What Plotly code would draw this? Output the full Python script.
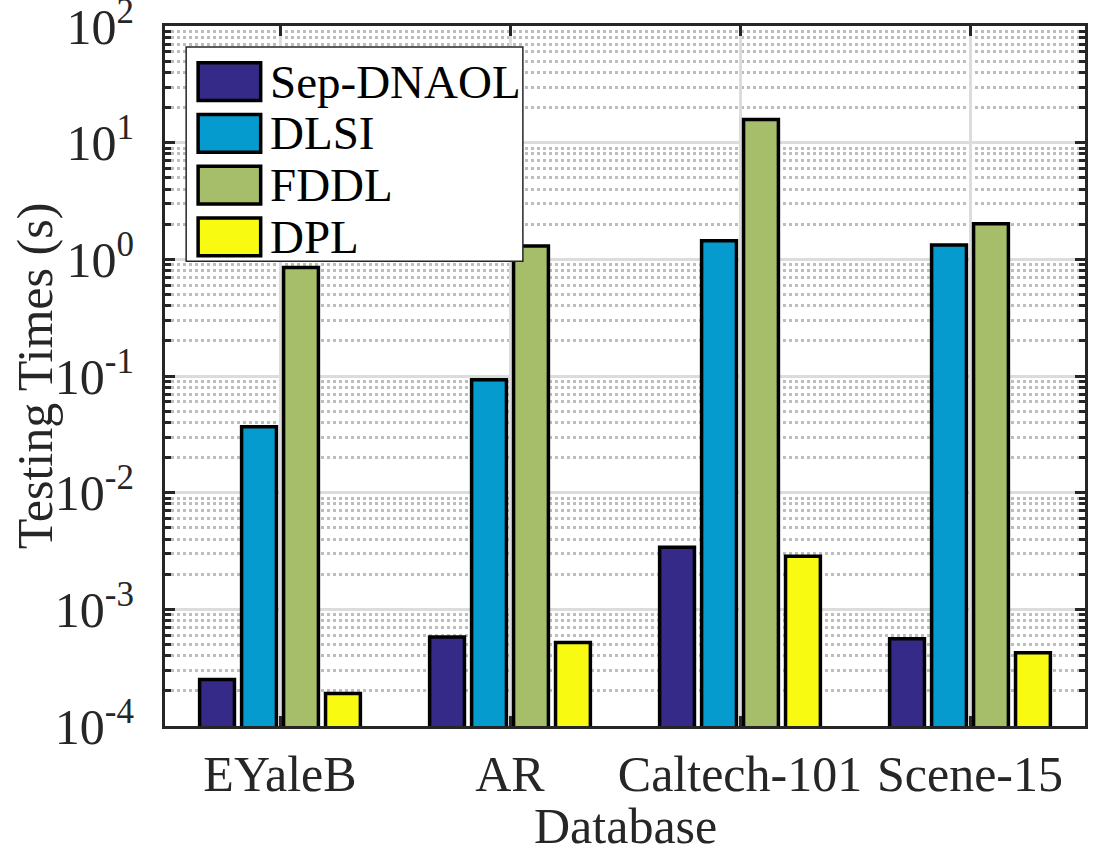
import plotly.graph_objects as go

categories = ["EYaleB", "AR", "Caltech-101", "Scene-15"]
series_names = ["Sep-DNAOL", "DLSI", "FDDL", "DPL"]
sep_dnaol = [2.5e-4, 5.8e-4, 3.4e-3, 5.6e-4]
dlsi = [0.0368, 0.093, 1.44, 1.33]
fddl = [0.85, 1.30, 15.8, 2.02]
dpl = [1.9e-4, 5.2e-4, 2.85e-3, 4.25e-4]
series_values = [sep_dnaol, dlsi, fddl, dpl]
colors = ["#352A87", "#069BCF", "#A6BE6A", "#F8FA12"]
ytick_exps = [-4, -3, -2, -1, 0, 1, 2]

FONT = "Times New Roman, Liberation Serif, serif"
FS = 50
AX = "#262626"

fig = go.Figure()
for name, vals, col in zip(series_names, series_values, colors):
    fig.add_trace(go.Bar(
        x=categories, y=vals, name=name,
        marker=dict(color=col, line=dict(color="black", width=3.5)),
        showlegend=False,
    ))

tickvals = [10.0 ** e for e in ytick_exps]
ticktext = ["10<sup>%d</sup>" % e for e in ytick_exps]
minor_vals = [m * 10.0 ** e for e in ytick_exps[:-1] for m in range(2, 10)]

fig.update_layout(
    width=1097, height=849,
    margin=dict(l=165, r=12, t=26, b=123, autoexpand=False),
    paper_bgcolor="white", plot_bgcolor="white",
    font=dict(family=FONT, size=FS, color=AX),
    barmode="group", bargap=0.27, bargroupgap=0.17,
    showlegend=False,
)

fig.update_xaxes(
    type="category", range=[-0.5, 3.5], automargin=False,
    showline=True, linewidth=3, linecolor=AX, mirror="ticks",
    ticks="inside", ticklen=10, tickwidth=3, tickcolor=AX,
    showgrid=True, gridcolor="#DCDCDC", gridwidth=2.5,
    tickfont=dict(family=FONT, size=FS, color=AX),
    ticklabelstandoff=2,
)
fig.update_yaxes(
    type="log", range=[-4, 2], automargin=False,
    tickmode="array", tickvals=tickvals, ticktext=ticktext,
    ticklabeloverflow="allow",
    showline=True, linewidth=3, linecolor=AX, mirror="ticks",
    ticks="inside", ticklen=10, tickwidth=3, tickcolor=AX,
    showgrid=True, gridcolor="#DCDCDC", gridwidth=2.5,
    tickfont=dict(family=FONT, size=FS, color=AX),
    ticklabelstandoff=18,
    minor=dict(tickmode="array", tickvals=minor_vals, ticks="inside", ticklen=6,
               tickwidth=2.5, tickcolor=AX, showgrid=True, gridcolor="#BDBDBD",
               griddash="dot", gridwidth=2.5),
)

# Axis titles
fig.add_annotation(xref="paper", yref="paper", x=-0.141, y=0.5, text="Testing Times (s)",
                   textangle=-90, showarrow=False, xanchor="center", yanchor="middle",
                   font=dict(family=FONT, size=FS, color=AX))
fig.add_annotation(xref="paper", yref="paper", x=0.5, y=-0.143, text="Database",
                   showarrow=False, xanchor="center", yanchor="middle",
                   font=dict(family=FONT, size=FS, color=AX))

# Custom legend (paper coordinates of the plot area)
lx0, lx1, ly0, ly1 = 0.023, 0.389, 0.664, 0.970
fig.add_shape(type="rect", xref="paper", yref="paper", x0=lx0, x1=lx1, y0=ly0, y1=ly1,
              fillcolor="white", line=dict(color=AX, width=1.5), layer="above")
row_h = 0.0739
for i, (name, col) in enumerate(zip(series_names, colors)):
    yc = 0.9205 - i * row_h
    fig.add_shape(type="rect", xref="paper", yref="paper",
                  x0=0.036, x1=0.104, y0=yc - 0.027, y1=yc + 0.027,
                  fillcolor=col, line=dict(color="black", width=3.5), layer="above")
    fig.add_annotation(xref="paper", yref="paper", x=0.112, y=yc, text=name,
                       showarrow=False, xanchor="left", yanchor="middle",
                       font=dict(family=FONT, size=47, color="black"))

fig.write_html("out.html")
